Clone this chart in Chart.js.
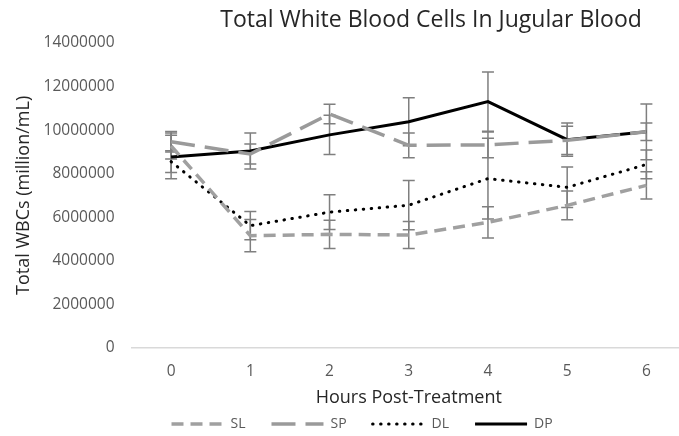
<!DOCTYPE html>
<html lang="en">
<head>
  <meta charset="UTF-8" />
  <title>Total White Blood Cells In Jugular Blood</title>
  <script src="https://cdn.jsdelivr.net/npm/chart.js"></script>
  <style>
    html, body {
      margin: 0;
      padding: 0;
      background: #fff;
      overflow: hidden;
    }
    #wrap {
      width: 679px;
      height: 436px;
      overflow: hidden;
    }
  </style>
</head>
<body>
  <div id="wrap">
    <canvas id="wbcChart" width="700" height="436"></canvas>
  </div>

  <script>
    const hours = ['0', '1', '2', '3', '4', '5', '6'];
    const yTicks = [0, 2000000, 4000000, 6000000, 8000000, 10000000, 12000000, 14000000];

    // mean WBC counts per group
    const slValues = [9270000, 5150000, 5210000, 5180000, 5760000, 6540000, 7460000];
    const spValues = [9460000, 8900000, 10740000, 9300000, 9320000, 9530000, 9920000];
    const dlValues = [8550000, 5610000, 6230000, 6550000, 7770000, 7370000, 8420000];
    const dpValues = [8760000, 9040000, 9780000, 10380000, 11310000, 9560000, 9920000];

    // +/- error for each group
    const slErr = [600000, 740000, 650000, 620000, 720000, 660000, 630000];
    const spErr = [470000, 460000, 450000, 570000, 590000, 650000, 400000];
    const dlErr = [500000, 650000, 800000, 1130000, 1850000, 930000, 660000];
    const dpErr = [1000000, 830000, 900000, 1100000, 1360000, 760000, 1280000];

    const FONT = "'Open Sans', 'Liberation Sans', sans-serif";
    const GREY_TEXT = '#595959';

    // vertical error bars with caps, drawn under the lines
    const errorBars = {
      id: 'errorBars',
      beforeDatasetsDraw(chart, args, opts) {
        const { ctx, scales: { x, y } } = chart;
        ctx.save();
        ctx.strokeStyle = opts.color;
        ctx.lineWidth = opts.width;
        chart.data.datasets.forEach(ds => {
          ds.data.forEach((v, i) => {
            const e = ds.errors[i];
            const px = x.getPixelForValue(i);
            const top = y.getPixelForValue(v + e);
            const bot = y.getPixelForValue(v - e);
            ctx.beginPath();
            ctx.moveTo(px, top);
            ctx.lineTo(px, bot);
            ctx.moveTo(px - opts.cap, top);
            ctx.lineTo(px + opts.cap, top);
            ctx.moveTo(px - opts.cap, bot);
            ctx.lineTo(px + opts.cap, bot);
            ctx.stroke();
          });
        });
        ctx.restore();
      }
    };

    // chart title placed over the plot
    const chartTitle = {
      id: 'chartTitle',
      afterDraw(chart, args, opts) {
        const ctx = chart.ctx;
        ctx.save();
        ctx.font = opts.font;
        ctx.fillStyle = opts.color;
        ctx.textAlign = 'center';
        ctx.textBaseline = 'middle';
        ctx.fillText(opts.text, opts.x, opts.y);
        ctx.restore();
      }
    };

    // nudge the legend row sideways after layout
    const legendShift = {
      id: 'legendShift',
      afterLayout(chart, args, opts) {
        if (chart.legend) {
          chart.legend.left += opts.dx;
          chart.legend.right += opts.dx;
        }
      }
    };

    const ctx = document.getElementById('wbcChart').getContext('2d');

    new Chart(ctx, {
      type: 'line',
      data: {
        labels: hours,
        datasets: [
          {
            label: 'SL',
            data: slValues,
            errors: slErr,
            borderColor: '#a0a0a0',
            borderWidth: 3.5,
            borderDash: [12, 7],
          },
          {
            label: 'SP',
            data: spValues,
            errors: spErr,
            borderColor: '#9a9a9a',
            borderWidth: 3.5,
            borderDash: [24, 10],
          },
          {
            label: 'DL',
            data: dlValues,
            errors: dlErr,
            borderColor: '#000',
            borderWidth: 3,
            borderDash: [0.5, 7.5],
            borderCapStyle: 'round',
          },
          {
            label: 'DP',
            data: dpValues,
            errors: dpErr,
            borderColor: '#000',
            borderWidth: 3,
          }
        ]
      },
      options: {
        responsive: false,
        animation: false,
        devicePixelRatio: 1,
        tension: 0,
        elements: {
          point: { radius: 0, hoverRadius: 0 },
          line: { fill: false }
        },
        layout: {
          padding: { top: 43, left: 13, right: 14, bottom: -5 }
        },
        plugins: {
          title: { display: false },
          tooltip: { enabled: false },
          chartTitle: {
            text: 'Total White Blood Cells In Jugular Blood',
            font: "23px " + FONT,
            color: '#262626',
            x: 431,
            y: 20
          },
          errorBars: { color: '#7f7f7f', width: 1.5, cap: 6 },
          legendShift: { dx: 14 },
          legend: {
            display: true,
            position: 'bottom',
            fullSize: false,
            align: 'start',
            labels: {
              usePointStyle: true,
              pointStyleWidth: 52,
              padding: 26,
              color: GREY_TEXT,
              font: { family: FONT, size: 14 },
              generateLabels: chart => chart.data.datasets.map((ds, i) => ({
                text: ds.label,
                datasetIndex: i,
                strokeStyle: ds.borderColor,
                fillStyle: ds.borderColor,
                lineWidth: ds.borderWidth,
                lineDash: ds.borderDash || [],
                lineCap: ds.borderCapStyle || 'butt',
                pointStyle: 'line',
                fontColor: GREY_TEXT,
                hidden: false
              }))
            }
          }
        },
        scales: {
          x: {
            offset: true,
            grid: { display: false, drawTicks: false },
            border: { display: true, color: '#d9d9d9', width: 1.5 },
            ticks: {
              color: GREY_TEXT,
              padding: 14,
              maxRotation: 0,
              font: { family: FONT, size: 15.5 }
            },
            title: {
              display: true,
              text: 'Hours Post-Treatment',
              color: '#262626',
              padding: { top: -7, bottom: -18 },
              font: { family: FONT, size: 18 }
            }
          },
          y: {
            min: yTicks[0],
            max: yTicks[yTicks.length - 1],
            afterBuildTicks: axis => {
              axis.ticks = yTicks.map(v => ({ value: v }));
            },
            grid: { display: false, drawTicks: false },
            border: { display: false },
            ticks: {
              color: GREY_TEXT,
              padding: 17,
              font: { family: FONT, size: 15.5 },
              callback: v => String(v)
            },
            title: {
              display: true,
              text: 'Total WBCs (million/mL)',
              color: '#262626',
              padding: { top: 0, bottom: -8 },
              font: { family: FONT, size: 18 }
            }
          }
        }
      },
      plugins: [errorBars, chartTitle, legendShift]
    });
  </script>
</body>
</html>
